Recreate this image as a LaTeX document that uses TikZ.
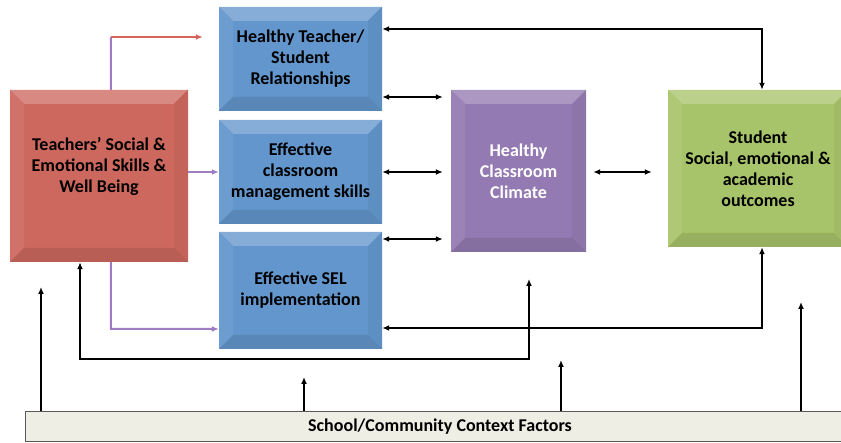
\documentclass[tikz,border=0pt]{standalone}
\usepackage{fontspec}
\setmainfont{Carlito}
\usetikzlibrary{arrows.meta,calc}

\definecolor{teachred}{RGB}{205,104,95}
\definecolor{relblue}{RGB}{98,150,204}
\definecolor{climpurple}{RGB}{148,122,178}
\definecolor{outgreen}{RGB}{168,196,106}
\definecolor{ctxfill}{RGB}{239,238,228}
\definecolor{arrred}{RGB}{214,100,90}
\definecolor{arrpurple}{RGB}{160,125,195}

\begin{document}
\begin{tikzpicture}[x=1pt,y=-1pt,
  box/.style={fill=#1, inner sep=0pt, align=center,
    font=\bfseries\fontsize{18}{21}\selectfont,
    path picture={
      \path (path picture bounding box.north west) coordinate (bnw)
            (path picture bounding box.north east) coordinate (bne)
            (path picture bounding box.south east) coordinate (bse)
            (path picture bounding box.south west) coordinate (bsw);
      \fill[#1!78!white] (bnw) -- (bne) -- ([shift={(-14,14)}]bne) -- ([shift={(14,14)}]bnw) -- cycle;
      \fill[#1!93!white] (bnw) -- ([shift={(14,14)}]bnw) -- ([shift={(14,-14)}]bsw) -- (bsw) -- cycle;
      \fill[#1!95!black] (bne) -- ([shift={(-14,14)}]bne) -- ([shift={(-14,-14)}]bse) -- (bse) -- cycle;
      \fill[#1!90!black] (bsw) -- ([shift={(14,-14)}]bsw) -- ([shift={(-14,-14)}]bse) -- (bse) -- cycle;
    }},
  conn/.style={line width=2pt, {Latex[length=7pt,width=6pt]}-{Latex[length=7pt,width=6pt]}},
  up/.style={line width=2pt, -{Latex[length=7pt,width=6pt]}},
  pline/.style={line width=2pt, arrpurple},
  rline/.style={line width=2pt, arrred, -{Latex[length=7pt,width=6pt]}}]

\useasboundingbox (0,0) rectangle (841,443);
\clip (0,0) rectangle (841,443);

% boxes
\node[box=teachred, minimum width=178pt, minimum height=172pt] (teach) at (99,176) {};
\node[font=\bfseries\fontsize{18}{21}\selectfont, align=center] (teachtxt) at ([yshift=10pt]teach.center)
  {Teachers’ Social \&\\Emotional Skills \&\\Well Being};
\node[box=relblue, minimum width=163pt, minimum height=104pt] (rel) at (300.5,59)
  {Healthy Teacher/\\Student\\Relationships};
\node[box=relblue, minimum width=163pt, minimum height=104pt] (mgmt) at (300.5,172)
  {Effective\\classroom\\management skills};
\node[box=relblue, minimum width=163pt, minimum height=117pt] (sel) at (300.5,290.5)
  {Effective SEL\\implementation};
\node[box=climpurple, minimum width=135pt, minimum height=162pt, text=white] (clim) at (518.5,171)
  {Healthy\\Classroom\\Climate};
\node[box=outgreen, minimum width=180pt, minimum height=157pt] (outc) at (758,168.5)
  {Student\\Social, emotional \&\\academic\\outcomes};
\node[fill=ctxfill, draw=black!65, line width=1pt, minimum width=830pt, minimum height=30pt,
  font=\bfseries\fontsize{18}{21}\selectfont] (ctx) at (440,427) {School/Community Context Factors};

% teacher skills to the three blue boxes
\coordinate (redturn) at (111,37);
\draw[pline] ([xshift=101pt]teach.north west) -- (redturn);
\draw[rline, shorten >=16pt] (redturn) -- (rel.west |- redturn);
\draw[pline, -{Latex[length=7pt,width=6pt]}] (teach.east |- mgmt.west) -- (mgmt.west);
\coordinate (selturn1) at (111,329);
\draw[pline, -{Latex[length=7pt,width=6pt]}] ([xshift=101pt]teach.south west) -- (selturn1) -- (sel.west |- selturn1);

% blue boxes and climate
\draw[conn, shorten >=8pt] (rel.east |- 0,97) -- (clim.west |- 0,97);
\draw[conn, shorten >=8pt] (mgmt.east) -- (clim.west |- mgmt.east);
\draw[conn, shorten >=8pt] (sel.east |- 0,239) -- (clim.west |- 0,239);
\draw[conn, shorten <=7pt, shorten >=16pt] (clim.east |- mgmt.east) -- (outc.west |- mgmt.east);

% feedback loops
\coordinate (topturn) at (762,29);
\draw[conn] (rel.east |- topturn) -- (topturn) -- (topturn |- outc.north);
\coordinate (selturn2) at (762,328);
\draw[conn] (selturn2 |- outc.south) -- (selturn2) -- (sel.east |- selturn2);
\coordinate (climtip) at (529,279);
\coordinate (loopr) at (529,359);
\coordinate (loopl) at (80,359);
\draw[conn] (climtip) -- (loopr) -- (loopl) -- (loopl |- teach.south);

% context factors
\coordinate (ctx1) at (41,287);
\coordinate (ctx2) at (304,377);
\coordinate (ctx3) at (561,360);
\coordinate (ctx4) at (801,302);
\foreach \c in {ctx1,ctx2,ctx3,ctx4}
  \draw[up] (ctx.north -| \c) -- (\c);
\end{tikzpicture}
\end{document}
